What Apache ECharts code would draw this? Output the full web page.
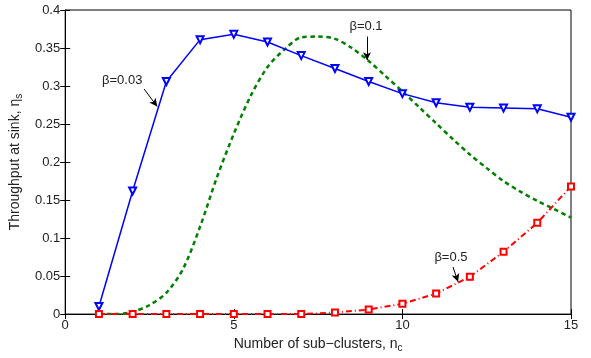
<!DOCTYPE html>
<html><head><meta charset="utf-8">
<script src="https://cdn.jsdelivr.net/npm/echarts@6/dist/echarts.min.js"></script>
<style>html,body{margin:0;padding:0;background:#fff}#c{width:591px;height:358px}</style>
</head><body><div id="c"></div>
<script>
var xTicks = [0, 5, 10, 15];
var nc = [1,2,3,4,5,6,7,8,9,10,11,12,13,14,15];
var beta003 = [0.010,0.162,0.306,0.361,0.368,0.358,0.340,0.323,0.306,0.290,0.278,0.272,0.271,0.270,0.259];
var beta05 = [0,0,0,0,0,0,0,0.002,0.006,0.0135,0.027,0.049,0.082,0.120,0.168];
var ncFine = [1,1.5,2,2.5,3,3.5,4,4.5,5,5.5,6,6.5,7,7.5,8,8.5,9,9.5,10,10.5,11,11.5,12,12.5,13,13.5,14,14.5,15];
var beta01 = [0,0,0.003,0.012,0.028,0.060,0.115,0.180,0.237,0.287,0.325,0.348,0.364,0.365,0.362,0.350,0.333,0.313,0.293,0.272,0.251,0.230,0.210,0.192,0.175,0.161,0.149,0.138,0.127];
var labels = [
  {text:'β=0.03', at:[1.69,0.308], from:[2.34,0.296], to:[2.73,0.273]},
  {text:'β=0.1', at:[8.92,0.378], from:[8.95,0.365], to:[8.95,0.334]},
  {text:'β=0.5', at:[11.44,0.075], from:[11.5,0.062], to:[11.65,0.0425]}
];
function zip(a,b){return a.map(function(v,i){return [v,b[i]];});}
var FONT = '"Liberation Sans", Arial, sans-serif';
var chart = echarts.init(document.getElementById('c'), null, {renderer:'canvas'});
var tickStyle = {show:true, inside:true, length:5, lineStyle:{color:'#000', width:1}};
chart.setOption({
  animation:false,
  grid:{left:65, right:20, top:10, bottom:40, show:true, borderColor:'#000', borderWidth:1, backgroundColor:'transparent'},
  xAxis:[{
    type:'value', min:0, max:15, interval:5,
    axisLine:{show:true, lineStyle:{color:'#000', width:1}},
    axisTick:tickStyle, splitLine:{show:false},
    axisLabel:{color:'#222', fontFamily:FONT, fontSize:13, margin:5},
    name:'Number of sub−clusters, n{s|c}', nameLocation:'middle', nameGap:20,
    nameTextStyle:{color:'#222', fontFamily:FONT, fontSize:14,
      rich:{s:{fontFamily:FONT, fontSize:10, color:'#222', verticalAlign:'bottom', padding:[8,0,0,0]}}}
  },{
    type:'value', min:0, max:15, interval:5, position:'top',
    axisLine:{show:false}, axisTick:tickStyle, axisLabel:{show:false}, splitLine:{show:false}
  }],
  yAxis:[{
    type:'value', min:0, max:0.4, interval:0.05,
    axisLine:{show:true, lineStyle:{color:'#000', width:1}},
    axisTick:tickStyle, splitLine:{show:false},
    axisLabel:{color:'#222', fontFamily:FONT, fontSize:13, margin:5},
    name:'Throughput at sink, η{s|s}', nameLocation:'middle', nameGap:35, nameRotate:90,
    nameTextStyle:{color:'#222', fontFamily:FONT, fontSize:14,
      rich:{s:{fontFamily:FONT, fontSize:10, color:'#222', padding:[8,0,0,0]}}}
  },{
    type:'value', min:0, max:0.4, interval:0.05, position:'right',
    axisLine:{show:false}, axisTick:tickStyle, axisLabel:{show:false}, splitLine:{show:false}
  }],
  series:[
    {
      type:'line', data:zip(ncFine, beta01), smooth:0.3, showSymbol:false, symbol:'none',
      lineStyle:{color:'#008000', width:2.5, type:[4.5,3.5]}, z:2
    },
    {
      type:'line', data:zip(nc, beta003), symbol:'emptyTriangle', symbolRotate:180, symbolSize:7,
      itemStyle:{color:'#0000ff', borderColor:'#0000ff', borderWidth:2},
      lineStyle:{color:'#0000ff', width:1.5}, z:3
    },
    {
      type:'line', data:zip(nc, beta05), symbol:'emptyRect', symbolSize:6, showAllSymbol:true,
      itemStyle:{color:'#ff0000', borderColor:'#ff0000', borderWidth:2.5},
      lineStyle:{color:'#ff0000', width:2, type:[6,3,1,3]}, z:4,
      markPoint:{
        symbol:'circle', symbolSize:0, silent:true,
        label:{show:true, position:'inside', color:'#222', fontFamily:FONT, fontSize:13, formatter:'{b}'},
        data: labels.map(function(l){return {name:l.text, coord:l.at};})
      },
      markLine:{
        silent:true, symbol:['none','arrow'], symbolSize:[6,8],
        lineStyle:{color:'#000', width:1, type:'solid'}, label:{show:false},
        data: labels.map(function(l){return [{coord:l.from},{coord:l.to}];})
      }
    }
  ]
});
</script></body></html>
